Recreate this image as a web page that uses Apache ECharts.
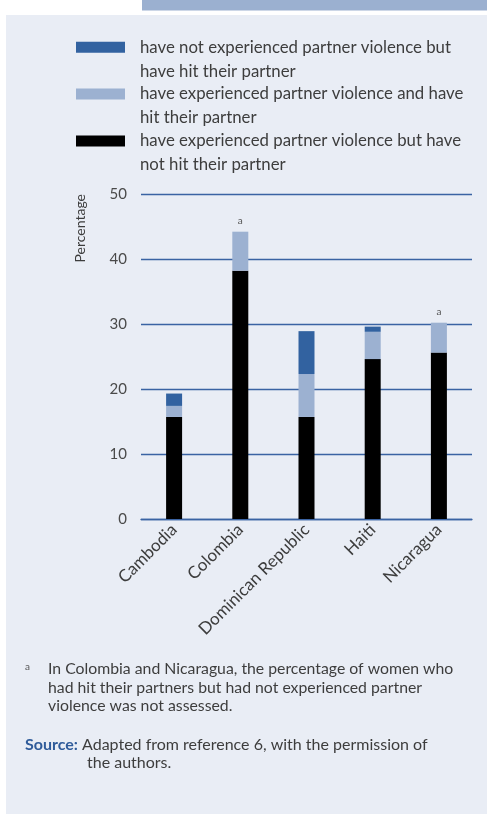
<!DOCTYPE html>
<html><head><meta charset="utf-8">
<script src="https://cdn.jsdelivr.net/npm/echarts@6/dist/echarts.min.js"></script>
<style>html,body{margin:0;padding:0;background:#fff}#c{width:487px;height:814px}</style>
</head><body><div id="c"></div>
<script>
const categories = ['Cambodia', 'Colombia', 'Dominican Republic', 'Haiti', 'Nicaragua'];
const notHitExperienced = [15.7, 38.2, 15.7, 24.6, 25.6];      // experienced violence, not hit partner
const hitExperienced = [1.7, 6.0, 6.6, 4.2, 4.6];              // experienced violence and hit partner
const hitNotExperienced = [1.9, null, 6.6, 0.8, null];         // not experienced but hit partner
const notes = ['', 'a', '', '', 'a'];
const yTicks = [0, 10, 20, 30, 40, 50];

const names = [
  'have not experienced partner violence but\nhave hit their partner',
  'have experienced partner violence and have\nhit their partner',
  'have experienced partner violence but have\nnot hit their partner'
];
const colors = ['#3262a0', '#9cb1d1', '#000000'];
const FONT = 'Lato, "Open Sans", sans-serif';
const textCol = '#3d3d3d';

const chart = echarts.init(document.getElementById('c'));
const iconCenters = [47.2, 94, 141];
const legends = names.map((n, i) => ({
  data: [n], left: 76, top: iconCenters[i] - 36, orient: 'vertical', padding: 0,
  itemWidth: 49, itemHeight: 11, icon: 'rect', selectedMode: false,
  formatter: name => '\n' + name,
  textStyle: { fontFamily: FONT, fontSize: 16.8, color: textCol, lineHeight: 24, padding: [0, 0, 0, 10] }
}));

const lightData = hitExperienced.map((v, i) => notes[i] ? {
  value: v, label: { show: true, formatter: notes[i], position: 'top', distance: 6, fontSize: 10, color: '#555', fontFamily: FONT }
} : v);

chart.setOption({
  animation: false,
  backgroundColor: '#ffffff',
  graphic: [
    { type: 'rect', left: 6, top: 15, z: -10, shape: { width: 481, height: 799 }, style: { fill: '#e9edf5' } },
    { type: 'rect', left: 142, top: 0, z: -10, shape: { width: 345, height: 10.5 }, style: { fill: '#9bb0d0' } },
    { type: 'text', left: 25, top: 662, style: { text: 'a', fontSize: 10, fill: '#555', fontFamily: FONT } },
    { type: 'text', left: 48, top: 660, style: { text: 'In Colombia and Nicaragua, the percentage of women who\nhad hit their partners but had not experienced partner\nviolence was not assessed.', fontSize: 15.8, lineHeight: 18.5, fill: textCol, fontFamily: FONT } },
    { type: 'text', left: 25, top: 736, style: {
      text: '{b|Source:} Adapted from reference 6, with the permission of',
      fontSize: 16, lineHeight: 18, fill: textCol, fontFamily: FONT,
      rich: { b: { fontWeight: 'bold', fill: '#2f5b9a', fontSize: 16, fontFamily: FONT } } } },
    { type: 'text', left: 87, top: 754, style: { text: 'the authors.', fontSize: 16, lineHeight: 18, fill: textCol, fontFamily: FONT } }
  ],
  legend: legends,
  grid: { left: 141, right: 15, top: 194, bottom: 814 - 519, containLabel: false },
  xAxis: {
    type: 'category', data: categories,
    axisLine: { lineStyle: { color: '#3a63a3', width: 1.3 } },
    axisTick: { show: false },
    axisLabel: { rotate: 45, interval: 0, fontFamily: FONT, fontSize: 17, color: textCol, margin: 8 }
  },
  yAxis: {
    type: 'value', min: 0, max: 50, interval: 10,
    name: 'Percentage', nameLocation: 'end', nameRotate: 90, nameGap: 0,
    nameTextStyle: { fontFamily: FONT, fontSize: 14, color: textCol, align: 'right', verticalAlign: 'bottom', padding: [0, 0, 54, 0] },
    axisLine: { show: false }, axisTick: { show: false },
    axisLabel: { fontFamily: FONT, fontSize: 15, color: '#4a4a4a', margin: 14, formatter: v => yTicks.includes(v) ? String(v) : '' },
    splitLine: { lineStyle: { color: '#3a63a3', width: 1.3 } }
  },
  series: [
    { name: names[2], type: 'bar', stack: 's', data: notHitExperienced, barWidth: 16, itemStyle: { color: colors[2] } },
    { name: names[1], type: 'bar', stack: 's', data: lightData, barWidth: 16, itemStyle: { color: colors[1] } },
    { name: names[0], type: 'bar', stack: 's', data: hitNotExperienced, barWidth: 16, itemStyle: { color: colors[0] } }
  ]
});
</script></body></html>
